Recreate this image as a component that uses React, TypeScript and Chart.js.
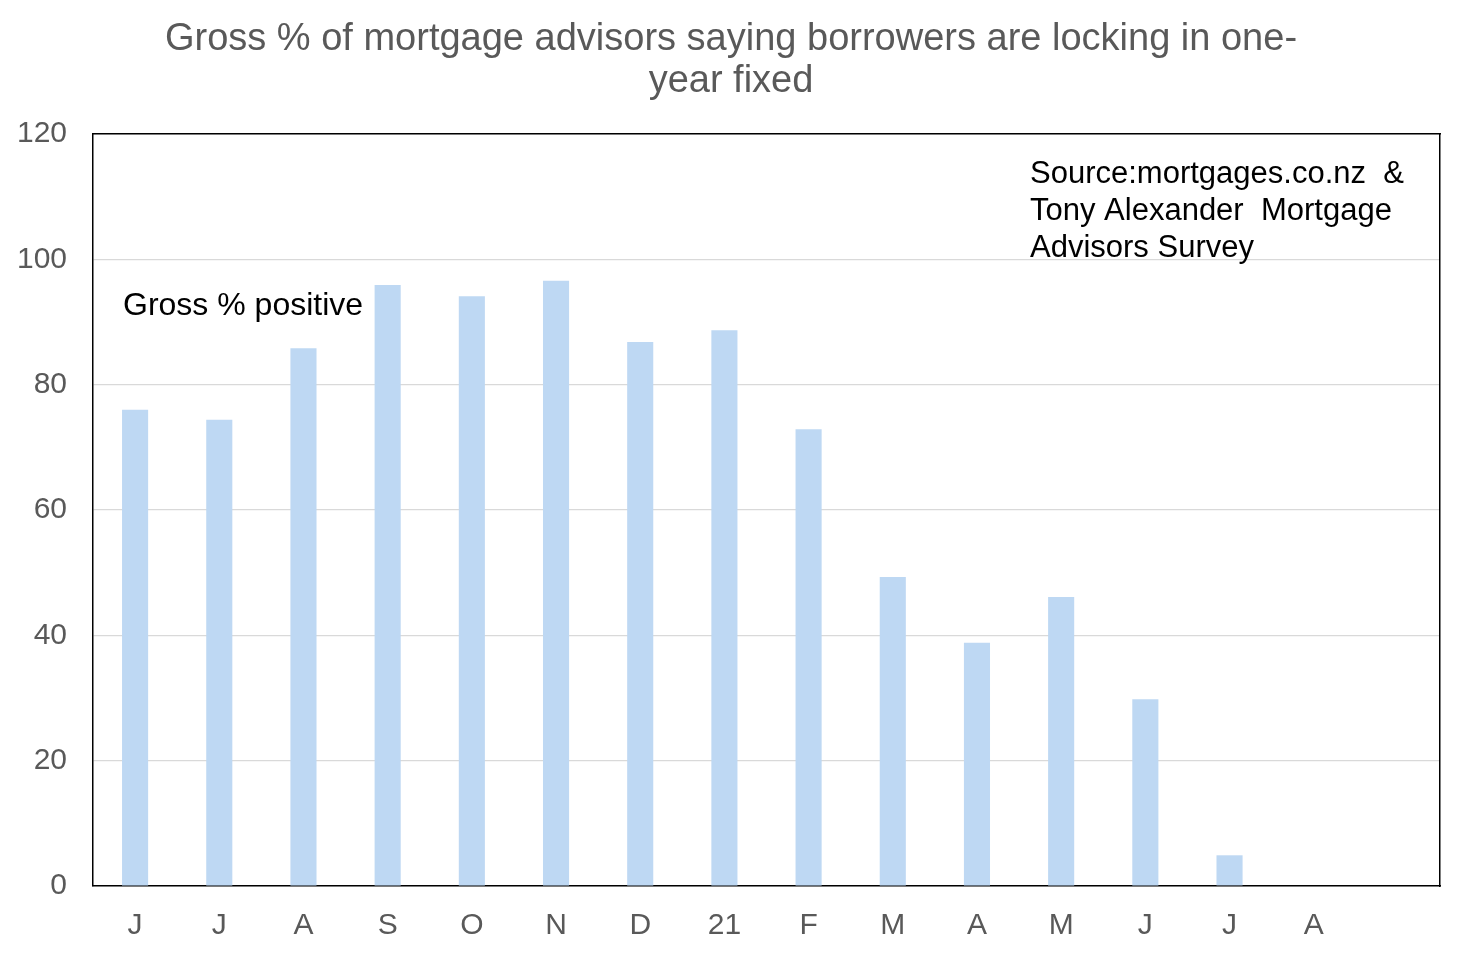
import React, { useEffect, useRef } from "react";
import { Chart, registerables } from "chart.js";

Chart.register(...registerables);

// months Jun 2020 .. Aug 2021, plus one empty slot at the end
const months: string[] = ["J", "J", "A", "S", "O", "N", "D", "21", "F", "M", "A", "M", "J", "J", "A", ""];
const grossPositive: (number | null)[] = [76, 74.4, 85.8, 95.9, 94.1, 96.6, 86.8, 88.7, 72.9, 49.3, 38.8, 46.1, 29.8, 4.9, null, null];
const yTicks: number[] = [0, 20, 40, 60, 80, 100, 120];

const titleLines: string[] = ["Gross % of mortgage advisors saying borrowers are locking in one-", "year fixed"];
const sourceLines: string[] = ["Source:mortgages.co.nz  &", "Tony Alexander  Mortgage", "Advisors Survey"];
const seriesNote = "Gross % positive";

const FONT = '"Liberation Sans", Arial, sans-serif';

// title on the page centre, plus the text boxes inside the plot area
const notesPlugin = {
    id: "notes",
    afterDraw(chart: Chart) {
        const { ctx, chartArea, width } = chart;
        ctx.save();
        ctx.textBaseline = "middle";

        ctx.fillStyle = "#595959";
        ctx.font = `38px ${FONT}`;
        ctx.textAlign = "center";
        titleLines.forEach((line, i) => {
            ctx.fillText(line, width / 2, 40 + i * 42);
        });

        ctx.fillStyle = "#000000";
        ctx.textAlign = "left";
        ctx.font = `32px ${FONT}`;
        ctx.fillText(seriesNote, chartArea.left + 30, 306);
        ctx.font = `31px ${FONT}`;
        sourceLines.forEach((line, i) => {
            ctx.fillText(line, 1030, 174 + i * 37);
        });
        ctx.restore();
    },
};

const App: React.FC = () => {
    const chartRef = useRef<HTMLCanvasElement | null>(null);
    const chartInstance = useRef<Chart | null>(null);

    useEffect(() => {
        if (chartInstance.current) {
            chartInstance.current.destroy();
        }
        if (!chartRef.current) return;
        const ctx = chartRef.current.getContext("2d");
        if (!ctx) return;

        chartInstance.current = new Chart(ctx, {
            type: "bar",
            data: {
                labels: months,
                datasets: [
                    {
                        label: seriesNote,
                        data: grossPositive,
                        backgroundColor: "#BED8F3",
                        borderWidth: 0,
                        barPercentage: 0.31,
                        categoryPercentage: 1,
                    },
                ],
            },
            options: {
                animation: false,
                responsive: true,
                maintainAspectRatio: false,
                layout: { padding: { left: 0, right: 22, top: 134, bottom: 0 } },
                plugins: {
                    legend: { display: false },
                    tooltip: { enabled: false },
                    title: { display: false },
                },
                scales: {
                    x: {
                        grid: { display: false, drawTicks: false },
                        border: { display: true, color: "#000000", width: 1.5 },
                        ticks: {
                            color: "#595959",
                            font: { family: FONT, size: 30 },
                            padding: 22,
                            maxRotation: 0,
                            autoSkip: false,
                        },
                        afterFit(scale: any) {
                            scale.height = 68;
                        },
                    },
                    y: {
                        min: 0,
                        max: 120,
                        afterBuildTicks(scale: any) {
                            scale.ticks = yTicks.map((v) => ({ value: v }));
                        },
                        grid: { color: "#D9D9D9", lineWidth: 1.2, drawTicks: false },
                        border: { display: true, color: "#000000", width: 1.5 },
                        ticks: {
                            color: "#595959",
                            font: { family: FONT, size: 30 },
                            padding: 26,
                        },
                        afterFit(scale: any) {
                            scale.width = 93;
                        },
                    },
                    // right and top frame of the plot area
                    y2: {
                        position: "right",
                        min: 0,
                        max: 120,
                        grid: { display: false, drawTicks: false },
                        border: { display: true, color: "#000000", width: 1.5 },
                        ticks: { display: false },
                        afterFit(scale: any) {
                            scale.width = 0;
                        },
                    },
                    x2: {
                        position: "top",
                        labels: months,
                        grid: { display: false, drawTicks: false },
                        border: { display: true, color: "#000000", width: 1.5 },
                        ticks: { display: false },
                        afterFit(scale: any) {
                            scale.height = 0;
                        },
                    },
                },
            },
            plugins: [notesPlugin],
        });

        return () => {
            if (chartInstance.current) {
                chartInstance.current.destroy();
                chartInstance.current = null;
            }
        };
    }, []);

    return (
        <div style={{ position: "fixed", left: 0, top: 0, width: 1462, height: 954, background: "#ffffff" }}>
            <canvas ref={chartRef}></canvas>
        </div>
    );
};

export default App;
